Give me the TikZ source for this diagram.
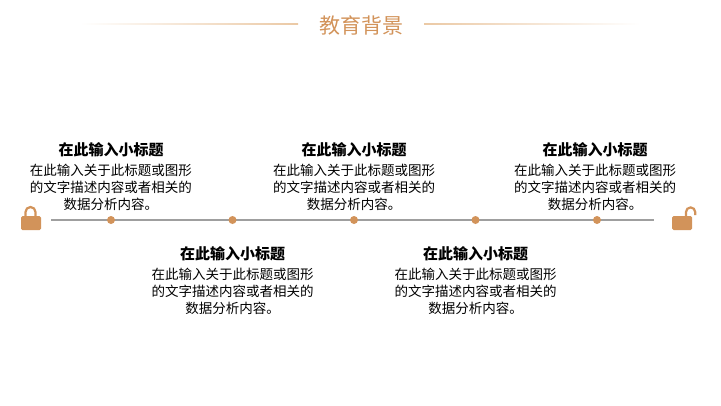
\documentclass[tikz,border=0pt]{standalone}
\usepackage{fontspec}
\setmainfont{Noto Sans CJK SC}
\usetikzlibrary{positioning}
\definecolor{lockcolor}{HTML}{D2935A}
\definecolor{rulecolor}{HTML}{EBC9A5}
\tikzset{dotnode/.style={circle,fill=lockcolor,inner sep=0pt,minimum size=8pt}}
\tikzset{headnode/.style={font=\fontsize{15}{18}\selectfont\bfseries,inner sep=0pt}}
\tikzset{bodynode/.style={font=\fontsize{13.5}{17}\selectfont,align=center,inner sep=0pt,text width=170pt}}
\tikzset{lockbody/.style={fill=lockcolor,rounded corners=1.5pt}}
\tikzset{shackle/.style={draw=lockcolor,line width=2.2pt}}

\begin{document}
\begin{tikzpicture}[x=1pt,y=-1pt,node distance=121.5pt,on grid]
  \useasboundingbox (0,0) rectangle (721,405);
  % title and the two fading rules
  \node[font=\fontsize{21}{24}\selectfont,text=lockcolor,inner sep=0pt] (title) at (361,25) {教育背景};
  \shade[left color=white,right color=rulecolor] (80,23.2) rectangle (298,24.8);
  \shade[left color=rulecolor,right color=white] (424,23.2) rectangle (640,24.8);
  % time line
  \coordinate (start) at (51,220);
  \coordinate (end) at (654,220);
  \path (start) edge [draw=gray!75,line width=1.4pt] (end);
  \node[dotnode]          (d1) at (111,220)     {};
  \node[dotnode]          (d2) [right =of d1]   {};
  \node[dotnode]          (d3) [right =of d2]   {};
  \node[dotnode]          (d4) [right =of d3]   {};
  \node[dotnode]          (d5) [right =of d4]   {};
  % upper texts
  \node[bodynode] (b1) [above =32.5pt of d1] {在此输入关于此标题或图形\\的文字描述内容或者相关的\\数据分析内容。};
  \node[headnode] (h1) [above =38pt of b1] {在此输入小标题};
  \node[bodynode] (b3) [above =32.5pt of d3] {在此输入关于此标题或图形\\的文字描述内容或者相关的\\数据分析内容。};
  \node[headnode] (h3) [above =38pt of b3] {在此输入小标题};
  \node[bodynode,xshift=-2pt] (b5) [above =32.5pt of d5] {在此输入关于此标题或图形\\的文字描述内容或者相关的\\数据分析内容。};
  \node[headnode] (h5) [above =38pt of b5] {在此输入小标题};
  % lower texts
  \node[bodynode] (b2) [below =71.5pt of d2] {在此输入关于此标题或图形\\的文字描述内容或者相关的\\数据分析内容。};
  \node[headnode] (h2) [above =38pt of b2] {在此输入小标题};
  \node[bodynode] (b4) [below =71.5pt of d4] {在此输入关于此标题或图形\\的文字描述内容或者相关的\\数据分析内容。};
  \node[headnode] (h4) [above =38pt of b4] {在此输入小标题};
  % closed lock
  \draw[shackle] (25.5,217) -- (25.5,212) arc[start angle=180,end angle=360,radius=5] -- (35.5,217);
  \fill[lockbody] (21,216) rectangle (41,230);
  % open lock
  \draw[shackle] (686,217) -- (686,212) arc[start angle=180,end angle=360,radius=4.6] -- (695.2,215);
  \fill[lockbody] (672,216) rectangle (692,230);
\end{tikzpicture}
\end{document}
